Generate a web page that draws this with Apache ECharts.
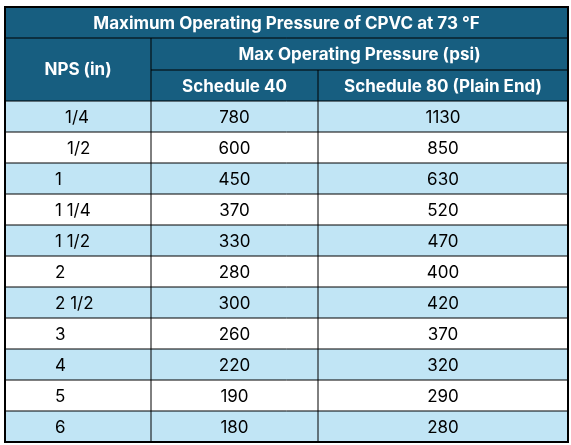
<!DOCTYPE html>
<html><head><meta charset="utf-8">
<script src="https://cdn.jsdelivr.net/npm/echarts@6/dist/echarts.min.js"></script>
<style>html,body{margin:0;padding:0;background:#fff}#c{width:571px;height:445px}</style>
</head><body><div id="c"></div>
<script>
const title = 'Maximum Operating Pressure of CPVC at 73 °F';
const groupHeader = 'Max Operating Pressure (psi)';
const colHeaders = ['NPS (in)', 'Schedule 40', 'Schedule 80 (Plain End)'];
const nps = ['1/4', '1/2', '1', '1 1/4', '1 1/2', '2', '2 1/2', '3', '4', '5', '6'];
const sch40 = [780, 600, 450, 370, 330, 280, 300, 260, 220, 190, 180];
const sch80 = [1130, 850, 630, 520, 470, 400, 420, 370, 320, 290, 280];

const chart = echarts.init(document.getElementById('c'));
const L = 5, R = 568, T = 7, B = 442;
const xs = [L, 151, 318, R];
const hdr = [T, 38, 70, 101];
const rowH = (B - hdr[3]) / nps.length;
const npsX = [65, 67, 55, 55, 55, 55, 55, 55, 55, 55, 55];
const dark = '#175E80', light = '#C1E5F5';
const font = 'Inter, "Noto Sans", sans-serif';
const g = [];
// spreadsheet faint gridlines
g.push({type:'rect', shape:{x:0,y:0,width:571,height:445}, style:{fill:'#fff'}});
// headers
g.push({type:'rect', shape:{x:L,y:hdr[0],width:R-L,height:hdr[3]-hdr[0]}, style:{fill:dark}});
g.push({type:'text', style:{text:title, x:(L+R)/2, y:(hdr[0]+hdr[1])/2+1, align:'center', verticalAlign:'middle', fill:'#fff', font:'bold 17px '+font}});
g.push({type:'text', style:{text:colHeaders[0], x:(xs[0]+xs[1])/2, y:(hdr[1]+hdr[3])/2, align:'center', verticalAlign:'middle', fill:'#fff', font:'bold 17px '+font}});
g.push({type:'text', style:{text:groupHeader, x:(xs[1]+xs[3])/2, y:(hdr[1]+hdr[2])/2+1, align:'center', verticalAlign:'middle', fill:'#fff', font:'bold 17px '+font}});
g.push({type:'text', style:{text:colHeaders[1], x:(xs[1]+xs[2])/2, y:(hdr[2]+hdr[3])/2+1, align:'center', verticalAlign:'middle', fill:'#fff', font:'bold 17px '+font}});
g.push({type:'text', style:{text:colHeaders[2], x:(xs[2]+xs[3])/2, y:(hdr[2]+hdr[3])/2+1, align:'center', verticalAlign:'middle', fill:'#fff', font:'bold 17px '+font}});
const line = (x1,y1,x2,y2,w)=>g.push({type:'line', shape:{x1,y1,x2,y2}, style:{stroke:'#000', lineWidth:w||1}});
// rows
nps.forEach((n,i)=>{
  const y = hdr[3] + i*rowH;
  g.push({type:'rect', shape:{x:L,y:y,width:R-L,height:rowH}, style:{fill: i%2===0 ? light : '#fff'}});
  const cy = y + rowH/2 + 1;
  g.push({type:'text', style:{text:n, x:npsX[i], y:cy, align:'left', verticalAlign:'middle', fill:'#000', font:'17px '+font}});
  g.push({type:'text', style:{text:String(sch40[i]), x:(xs[1]+xs[2])/2, y:cy, align:'center', verticalAlign:'middle', fill:'#000', font:'17px '+font}});
  g.push({type:'text', style:{text:String(sch80[i]), x:(xs[2]+xs[3])/2, y:cy, align:'center', verticalAlign:'middle', fill:'#000', font:'17px '+font}});
  line(L, y, R, y);
});
// header lines
line(L, hdr[1], R, hdr[1]);
line(xs[1], hdr[2], R, hdr[2]);
line(xs[1], hdr[1], xs[1], B);
line(xs[2], hdr[2], xs[2], B);
// outer border
g.push({type:'rect', shape:{x:L,y:T,width:R-L,height:B-T}, style:{fill:null, stroke:'#000', lineWidth:2}});
chart.setOption({animation:false, graphic:{elements:g}});
</script></body></html>
